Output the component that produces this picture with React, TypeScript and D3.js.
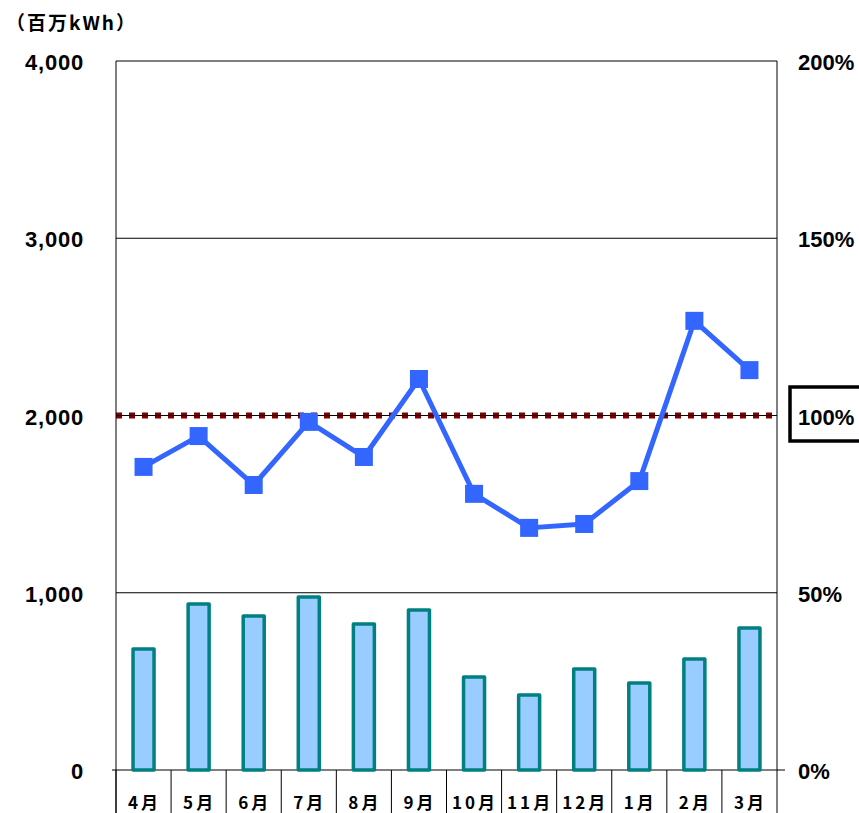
import React from "react";
import * as d3 from "d3";

const months = ["4月", "5月", "6月", "7月", "8月", "9月", "10月", "11月", "12月", "1月", "2月", "3月"];
const volume = [683, 937, 869, 976, 824, 903, 525, 423, 570, 491, 626, 801];
const ratio = [85.5, 94.2, 80.4, 98.2, 88.3, 110.3, 77.9, 68.3, 69.4, 81.5, 126.7, 112.8];
const leftTicks = [0, 1000, 2000, 3000, 4000];
const rightTicks = [0, 50, 100, 150, 200];
const baseline = 100;

const W = 859, H = 813;
const L = 116, R = 777, T = 61, B = 770;

export default function App() {
  const x = d3.scaleBand<string>().domain(months).range([L, R]).padding(0);
  const yL = d3.scaleLinear().domain([0, 4000]).range([B, T]);
  const yR = d3.scaleLinear().domain([0, 200]).range([B, T]);
  const fmt = d3.format(",");
  const line = d3
    .line<number>()
    .x((_, i) => (x(months[i]) as number) + x.bandwidth() / 2)
    .y((d) => yR(d));
  const barW = 21;
  const numFont = "'Liberation Sans', Arial, sans-serif";
  const jpFont = "'Noto Sans CJK JP', sans-serif";
  return (
    <svg width={W} height={H} style={{ position: "absolute", left: 0, top: 0, background: "#fff" }}>
      <text x={6} y={30} fontFamily={jpFont} fontWeight="bold" fontSize={19} letterSpacing={2}>
        （百万kWh）
      </text>
      {/* gridlines */}
      {leftTicks.map((t) => (
        <line key={"g" + t} x1={L} x2={R} y1={yL(t)} y2={yL(t)} stroke="#000" strokeWidth={1} />
      ))}
      <line x1={L - 4} x2={L} y1={B} y2={B} stroke="#000" />
      <line x1={R} x2={R + 8} y1={B} y2={B} stroke="#000" />
      {/* bars */}
      {volume.map((v, i) => {
        const cx = (x(months[i]) as number) + x.bandwidth() / 2;
        return (
          <rect
            key={"b" + i}
            x={cx - barW / 2}
            y={yL(v)}
            width={barW}
            height={B - yL(v)}
            fill="#99CCFF"
            stroke="#008080"
            strokeWidth={3.5}
            strokeLinejoin="round"
          />
        );
      })}
      {/* baseline dotted */}
      <line
        x1={L}
        x2={R}
        y1={yR(baseline)}
        y2={yR(baseline)}
        stroke="#800000"
        strokeWidth={6}
        strokeDasharray="6 7"
      />
      <line x1={L} x2={R} y1={yR(baseline)} y2={yR(baseline)} stroke="#000" strokeWidth={1} opacity={0.6} />
      {/* axes */}
      <line x1={L} x2={L} y1={T} y2={H} stroke="#000" strokeWidth={1} />
      <line x1={R} x2={R} y1={T} y2={H} stroke="#000" strokeWidth={1} />
      {months.map((m, i) => (
        <line
          key={"s" + i}
          x1={(x(m) as number)}
          x2={(x(m) as number)}
          y1={B}
          y2={H}
          stroke="#000"
          strokeWidth={1}
        />
      ))}
      {/* line */}
      <path d={line(ratio) || ""} fill="none" stroke="#3366FF" strokeWidth={5} strokeLinejoin="round" />
      {ratio.map((v, i) => {
        const cx = (x(months[i]) as number) + x.bandwidth() / 2;
        return <rect key={"m" + i} x={cx - 9} y={yR(v) - 9} width={18} height={18} fill="#3366FF" />;
      })}
      {/* left labels */}
      {leftTicks.map((t) => (
        <text
          key={"l" + t}
          x={84}
          y={yL(t) + 9}
          textAnchor="end"
          fontFamily={numFont}
          fontWeight="bold"
          fontSize={22}
          letterSpacing={0.8}
        >
          {fmt(t)}
        </text>
      ))}
      {/* right labels */}
      {rightTicks.map((t) => (
        <text
          key={"r" + t}
          x={798}
          y={yR(t) + 9}
          fontFamily={numFont}
          fontWeight="bold"
          fontSize={22}
        >
          {t + "%"}
        </text>
      ))}
      <rect x={790} y={387} width={80} height={54} fill="none" stroke="#000" strokeWidth={3.5} />
      {/* month labels */}
      {months.map((m, i) => (
        <text
          key={"x" + i}
          x={(x(m) as number) + x.bandwidth() / 2 + 1}
          y={809}
          textAnchor="middle"
          fontFamily={jpFont}
          fontWeight="bold"
          fontSize={17}
          letterSpacing={3}
        >
          {m}
        </text>
      ))}
    </svg>
  );
}
